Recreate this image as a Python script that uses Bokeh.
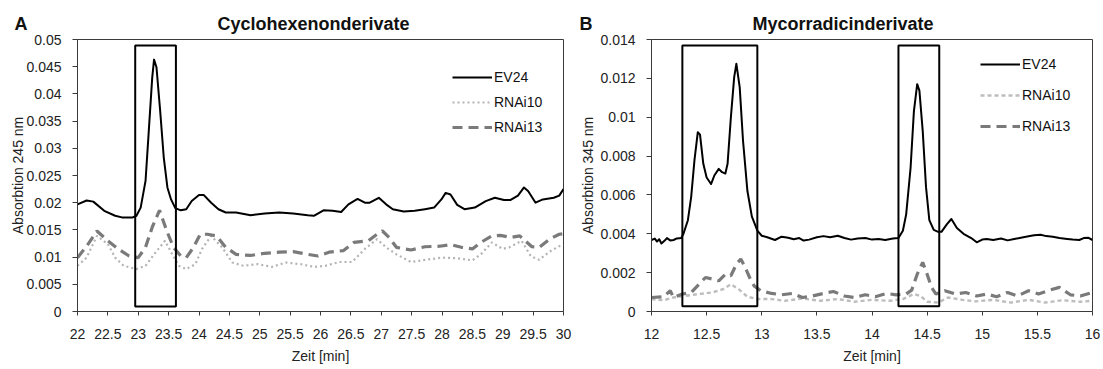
from bokeh.plotting import figure
from bokeh.layouts import row
from bokeh.models import (FixedTicker, CustomJSTickFormatter, Legend,
                          LegendItem, Range1d)
from bokeh.embed import file_html
from bokeh.resources import INLINE

FONT = "Liberation Sans"
NBSP = "\u00a0"

# ---------------- data: panel A ----------------
a_letter = "A"
a_title = "Cyclohexenonderivate"
a_ylabel = "Absorbtion 245 nm"
x_label = "Zeit [min]"
a_xticks = [22, 22.5, 23, 23.5, 24, 24.5, 25, 25.5, 26, 26.5, 27, 27.5, 28, 28.5, 29, 29.5, 30]
a_xtick_labels = ["22", "22.5", "23", "23.5", "24", "24.5", "25", "25.5", "26", "26.5",
                  "27", "27.5", "28", "28.5", "29", "29.5", "30"]
a_yticks = [0, 0.005, 0.01, 0.015, 0.02, 0.025, 0.03, 0.035, 0.04, 0.045, 0.05]
a_ytick_labels = ["0", "0.005", "0.01", "0.015", "0.02", "0.025", "0.03", "0.035",
                  "0.04", "0.045", "0.05"]

a_ev24_t = [22.0, 22.15, 22.26, 22.44, 22.62, 22.73, 22.91, 22.97, 23.04, 23.12,
            23.17, 23.23, 23.26, 23.30, 23.36, 23.42, 23.48, 23.54, 23.61, 23.70,
            23.79, 23.88, 24.0, 24.08, 24.2, 24.32, 24.44, 24.61, 24.85, 25.08,
            25.32, 25.55, 25.79, 25.89, 26.05, 26.2, 26.34, 26.46, 26.61, 26.73,
            26.81, 26.96, 27.08, 27.19, 27.37, 27.55, 27.72, 27.87, 27.99, 28.06,
            28.14, 28.25, 28.37, 28.54, 28.72, 28.87, 29.02, 29.13, 29.25, 29.35,
            29.42, 29.54, 29.66, 29.84, 29.93, 30.0]
a_ev24_v = [0.0197, 0.0204, 0.0202, 0.0185, 0.0176, 0.0173, 0.0173, 0.0176, 0.0191, 0.024,
            0.0326, 0.043, 0.0463, 0.0449, 0.037, 0.0283, 0.0228, 0.0206, 0.019, 0.0186,
            0.0188, 0.0203, 0.0214, 0.0214, 0.02, 0.0188, 0.0182, 0.0182, 0.0177, 0.018,
            0.0182, 0.018, 0.0177, 0.0176, 0.0186, 0.0185, 0.0183, 0.0197, 0.0207, 0.02,
            0.02, 0.0209, 0.0197, 0.0188, 0.0184, 0.0185, 0.0188, 0.0191, 0.0206, 0.0218,
            0.0215, 0.0196, 0.0188, 0.0191, 0.0203, 0.0209, 0.0205, 0.0205, 0.0213, 0.0228,
            0.0221, 0.02, 0.0206, 0.0209, 0.0213, 0.0225]

a_rnai10_t = [22.0, 22.15, 22.32, 22.5, 22.62, 22.76, 22.97, 23.12, 23.26, 23.44,
              23.56, 23.67, 23.79, 23.94, 24.05, 24.2, 24.38, 24.55, 24.73, 24.97,
              25.2, 25.43, 25.67, 25.9, 26.08, 26.31, 26.52, 26.73, 26.93, 27.08,
              27.25, 27.49, 27.72, 28.01, 28.25, 28.5, 28.64, 28.82, 29.0, 29.11,
              29.31, 29.46, 29.6, 29.77, 29.93, 30.0]
a_rnai10_v = [0.0084, 0.0099, 0.0139, 0.0124, 0.0099, 0.0084, 0.0078, 0.0084, 0.0105, 0.013,
              0.0105, 0.0084, 0.0078, 0.0087, 0.0115, 0.0139, 0.0118, 0.009, 0.0084, 0.0087,
              0.0082, 0.009, 0.0087, 0.0082, 0.0084, 0.0091, 0.0091, 0.0115, 0.0133, 0.0118,
              0.0105, 0.0091, 0.0095, 0.0099, 0.0098, 0.0094, 0.0105, 0.0127, 0.0115, 0.0118,
              0.013, 0.0102, 0.0095, 0.011, 0.012, 0.0122]

a_rnai13_t = [22.0, 22.15, 22.32, 22.5, 22.67, 22.85, 23.0, 23.12, 23.23, 23.35,
              23.47, 23.58, 23.7, 23.79, 23.91, 24.02, 24.14, 24.29, 24.44, 24.61,
              24.85, 25.08, 25.32, 25.55, 25.79, 25.96, 26.14, 26.38, 26.55, 26.79,
              26.93, 27.02, 27.13, 27.25, 27.49, 27.72, 27.96, 28.14, 28.32, 28.5,
              28.64, 28.82, 28.96, 29.13, 29.28, 29.48, 29.6, 29.77, 29.93, 30.0]
a_rnai13_v = [0.0099, 0.012, 0.0148, 0.013, 0.0115, 0.0102, 0.0099, 0.0118, 0.0155, 0.0186,
              0.0148, 0.0118, 0.0102, 0.0099, 0.0118, 0.0142, 0.0142, 0.0139, 0.0118, 0.0105,
              0.0103, 0.0107, 0.0109, 0.011, 0.0105, 0.0102, 0.0109, 0.0112, 0.0127, 0.013,
              0.0142, 0.0148, 0.0136, 0.0118, 0.0113, 0.0119, 0.012, 0.0123, 0.0118, 0.0115,
              0.0127, 0.0139, 0.014, 0.0136, 0.0139, 0.0119, 0.0118, 0.0133, 0.0142, 0.0143]

a_box_left = [22.95]
a_box_right = [23.62]
a_box_bottom = [0.0009]
a_box_top = [0.0489]

# ---------------- data: panel B ----------------
b_letter = "B"
b_title = "Mycorradicinderivate"
b_ylabel = "Absorbtion 345 nm"
b_xticks = [12, 12.5, 13, 13.5, 14, 14.5, 15, 15.5, 16]
b_xtick_labels = ["12", "12.5", "13", "13.5", "14", "14.5", "15", "15.5", "16"]
b_yticks = [0, 0.002, 0.004, 0.006, 0.008, 0.01, 0.012, 0.014]
b_ytick_labels = ["0", "0.002", "0.004", "0.006", "0.008", "0.01", "0.012", "0.014"]

b_ev24_t = [12.0, 12.03, 12.05, 12.07, 12.09, 12.12, 12.14, 12.17, 12.2, 12.23,
            12.27, 12.29, 12.33, 12.36, 12.39, 12.42, 12.44, 12.47, 12.5, 12.54,
            12.57, 12.61, 12.64, 12.67, 12.69, 12.72, 12.75, 12.77, 12.8, 12.83,
            12.87, 12.91, 12.96, 13.0, 13.05, 13.12, 13.18, 13.24, 13.29, 13.34,
            13.38, 13.43, 13.5, 13.56, 13.62, 13.69, 13.75, 13.81, 13.87, 13.94,
            14.0, 14.06, 14.12, 14.19, 14.24, 14.28, 14.31, 14.35, 14.38, 14.41,
            14.43, 14.46, 14.49, 14.52, 14.56, 14.6, 14.63, 14.68, 14.72, 14.77,
            14.83, 14.9, 14.95, 15.0, 15.04, 15.1, 15.17, 15.23, 15.29, 15.35,
            15.42, 15.47, 15.53, 15.58, 15.64, 15.7, 15.77, 15.82, 15.88, 15.92,
            15.96, 16.0]
b_ev24_v = [0.00368, 0.00375, 0.0036, 0.00372, 0.0035, 0.00365, 0.00378, 0.00366, 0.00368, 0.00376,
            0.00378, 0.004, 0.0047, 0.0059, 0.0078, 0.00923, 0.0091, 0.0076, 0.0069, 0.00656,
            0.007, 0.00734, 0.00717, 0.0071, 0.0076, 0.01, 0.01206, 0.01275, 0.01155, 0.0088,
            0.0062, 0.0049, 0.00416, 0.0039, 0.00382, 0.00368, 0.00385, 0.0038, 0.00372, 0.00378,
            0.00365, 0.0037, 0.00382, 0.00388, 0.00382, 0.0039, 0.00378, 0.0037, 0.00376, 0.00378,
            0.0037, 0.00373, 0.00368, 0.00376, 0.00378, 0.00416, 0.005, 0.0074, 0.0103, 0.0117,
            0.01137, 0.0093, 0.0064, 0.0047, 0.0042, 0.0041, 0.0041, 0.0045, 0.00476, 0.0043,
            0.004, 0.00378, 0.00356, 0.0037, 0.00373, 0.00368, 0.00376, 0.00366, 0.00373, 0.0038,
            0.00387, 0.00392, 0.00395, 0.00388, 0.00385, 0.00378, 0.00373, 0.0037, 0.00368, 0.00378,
            0.0038, 0.00368]

b_rnai10_t = [12.0, 12.11, 12.2, 12.3, 12.43, 12.55, 12.65, 12.72, 12.79, 12.87,
              12.96, 13.09, 13.21, 13.37, 13.53, 13.69, 13.84, 14.0, 14.16, 14.28,
              14.38, 14.44, 14.5, 14.6, 14.69, 14.82, 14.94, 15.1, 15.26, 15.42,
              15.57, 15.73, 15.89, 16.0]
b_rnai10_v = [0.00064, 0.00058, 0.00072, 0.0008, 0.0009, 0.00098, 0.00115, 0.0014, 0.00115, 0.00076,
              0.00064, 0.00064, 0.00055, 0.00067, 0.00055, 0.00064, 0.0005, 0.0006, 0.00055, 0.00064,
              0.0009, 0.0008, 0.0005, 0.00046, 0.00072, 0.0006, 0.00052, 0.0006, 0.00046, 0.0006,
              0.00046, 0.00058, 0.0005, 0.00055]

b_rnai13_t = [12.0, 12.11, 12.17, 12.2, 12.28, 12.36, 12.43, 12.49, 12.55, 12.61,
              12.67, 12.72, 12.77, 12.81, 12.85, 12.89, 12.93, 12.99, 13.09, 13.18,
              13.28, 13.37, 13.46, 13.56, 13.65, 13.75, 13.84, 13.94, 14.03, 14.13,
              14.22, 14.31, 14.36, 14.41, 14.46, 14.5, 14.54, 14.58, 14.66, 14.76,
              14.85, 14.95, 15.04, 15.13, 15.23, 15.32, 15.42, 15.51, 15.61, 15.7,
              15.8, 15.89, 16.0]
b_rnai13_v = [0.00072, 0.00076, 0.00107, 0.00072, 0.0009, 0.00098, 0.0014, 0.00175, 0.00167, 0.00158,
              0.00192, 0.00184, 0.00244, 0.0027, 0.00227, 0.00175, 0.00132, 0.00107, 0.00093, 0.00086,
              0.00093, 0.00072, 0.0008, 0.00093, 0.00103, 0.0008, 0.00072, 0.00086, 0.00076, 0.00093,
              0.00086, 0.0009, 0.0011, 0.00192, 0.00253, 0.00192, 0.00124, 0.0009, 0.00107, 0.0009,
              0.00098, 0.0008, 0.0009, 0.00076, 0.00098, 0.0008, 0.00107, 0.0009, 0.0011, 0.00124,
              0.00086, 0.0008, 0.00098]

b_box_left = [12.28, 14.24]
b_box_right = [12.96, 14.61]
b_box_bottom = [0.00027, 0.00027]
b_box_top = [0.01369, 0.01369]

series_names = ["EV24", "RNAi10", "RNAi13"]

FMT_CODE = """
for (let i = 0; i < tk.length; i++) {
  if (Math.abs(tk[i] - tick) < 1e-9) { return lb[i]; }
}
return '';
"""


def style(p, xticks, xlabels, yticks, ylabels, ylab_standoff, title_offset):
    p.xgrid.visible = False
    p.ygrid.visible = False
    p.outline_line_color = "#3a3a3a"
    p.outline_line_width = 1
    p.xaxis.ticker = FixedTicker(ticks=xticks)
    p.yaxis.ticker = FixedTicker(ticks=yticks)
    p.xaxis.formatter = CustomJSTickFormatter(args=dict(tk=xticks, lb=xlabels), code=FMT_CODE)
    p.yaxis.formatter = CustomJSTickFormatter(args=dict(tk=yticks, lb=ylabels), code=FMT_CODE)
    for ax in (p.xaxis[0], p.yaxis[0]):
        ax.axis_line_color = "#3a3a3a"
        ax.major_tick_line_color = "#3a3a3a"
        ax.minor_tick_line_color = None
        ax.major_tick_in = 0
        ax.major_tick_out = 5
        ax.major_label_text_font = FONT
        ax.major_label_text_font_size = "14px"
        ax.major_label_text_color = "#222222"
        ax.axis_label_text_font = FONT
        ax.axis_label_text_font_size = "14px"
        ax.axis_label_text_font_style = "normal"
        ax.axis_label_text_color = "#222222"
        ax.major_label_standoff = 11
    p.xaxis.major_tick_out = 4
    p.xaxis.major_label_standoff = 13
    p.xaxis.axis_label_standoff = 6
    p.yaxis.axis_label_standoff = ylab_standoff
    p.title.text_font = FONT
    p.title.text_font_size = "18px"
    p.title.text_font_style = "bold"
    p.title.text_color = "#111111"
    p.title.align = "left"
    p.title.offset = title_offset
    p.title.standoff = 12


def legend(p, items, loc, spacing):
    lg = Legend(items=items, location=loc, orientation="vertical",
                glyph_width=40, glyph_height=20, label_height=20, spacing=spacing,
                padding=0, margin=0, label_standoff=2,
                border_line_color=None, background_fill_alpha=0,
                label_text_font=FONT, label_text_font_size="14px",
                label_text_color="#111111")
    p.add_layout(lg)


# ---------------- Panel A ----------------
WA, H = 575, 368
pa = figure(width=WA, height=H, output_backend="svg", toolbar_location=None,
            title=a_letter + NBSP * 38 + a_title,
            x_range=Range1d(22, 30), y_range=Range1d(0, 0.05),
            min_border_left=77, min_border_right=12, min_border_top=39, min_border_bottom=57,
            x_axis_label=x_label, y_axis_label=a_ylabel)
style(pa, a_xticks, a_xtick_labels, a_yticks, a_ytick_labels, -3, -63)

ra10 = pa.line(a_rnai10_t, a_rnai10_v, line_color="#b4b4b4", line_width=2.2, line_dash="2 3")
ra13 = pa.line(a_rnai13_t, a_rnai13_v, line_color="#7a7a7a", line_width=3.2, line_dash="10 6")
rae = pa.line(a_ev24_t, a_ev24_v, line_color="#000000", line_width=2, line_join="round")
pa.quad(left=a_box_left, right=a_box_right, bottom=a_box_bottom, top=a_box_top,
        fill_alpha=0, line_color="#000000", line_width=2)
legend(pa, [LegendItem(label=series_names[0], renderers=[rae]),
            LegendItem(label=series_names[1], renderers=[ra10]),
            LegendItem(label=series_names[2], renderers=[ra13])], (375, 174), 5)

# ---------------- Panel B ----------------
WB = 527
pb = figure(width=WB, height=H, output_backend="svg", toolbar_location=None,
            title=b_letter + NBSP * 32 + b_title,
            x_range=Range1d(12, 16), y_range=Range1d(0, 0.014),
            min_border_left=76, min_border_right=10, min_border_top=39, min_border_bottom=57,
            x_axis_label=x_label, y_axis_label=b_ylabel)
style(pb, b_xticks, b_xtick_labels, b_yticks, b_ytick_labels, 1, -72)

rb10 = pb.line(b_rnai10_t, b_rnai10_v, line_color="#bdbdbd", line_width=2.4, line_dash="4 3")
rb13 = pb.line(b_rnai13_t, b_rnai13_v, line_color="#7a7a7a", line_width=3.2, line_dash="10 6")
rbe = pb.line(b_ev24_t, b_ev24_v, line_color="#000000", line_width=2, line_join="round")
pb.quad(left=b_box_left, right=b_box_right, bottom=b_box_bottom, top=b_box_top,
        fill_alpha=0, line_color="#000000", line_width=2)
legend(pb, [LegendItem(label=series_names[0], renderers=[rbe]),
            LegendItem(label=series_names[1], renderers=[rb10]),
            LegendItem(label=series_names[2], renderers=[rb13])], (329, 175), 11)

layout = row(pa, pb)
open("out.html", "w").write(file_html(layout, INLINE))
